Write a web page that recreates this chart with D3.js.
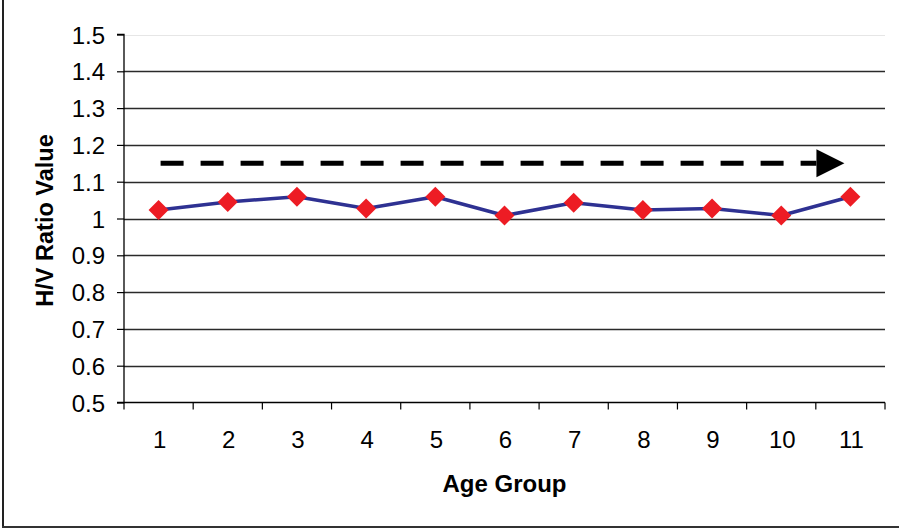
<!DOCTYPE html>
<html>
<head>
<meta charset="utf-8">
<script src="https://cdn.jsdelivr.net/npm/d3@7"></script>
<style>
  html, body { margin: 0; padding: 0; background: #fff; }
  svg { display: block; }
  text { font-family: "Liberation Sans", Arial, sans-serif; fill: #000; }
</style>
</head>
<body>
<svg id="chart" width="899" height="529"></svg>
<script>
// ---- data ----
const ageGroups = ["1", "2", "3", "4", "5", "6", "7", "8", "9", "10", "11"];
const hvRatio = [1.023, 1.045, 1.059, 1.027, 1.059, 1.008, 1.043, 1.023, 1.027, 1.008, 1.059];
const yTicks = [0.5, 0.6, 0.7, 0.8, 0.9, 1.0, 1.1, 1.2, 1.3, 1.4, 1.5];
const yTickLabels = ["0.5", "0.6", "0.7", "0.8", "0.9", "1", "1.1", "1.2", "1.3", "1.4", "1.5"];
const trendArrow = { from: "1", to: "11", value: 1.15 };
const xTitle = "Age Group";
const yTitle = "H/V Ratio Value";

// ---- layout ----
const svg = d3.select("#chart");
const plot = { left: 124, right: 885, top: 34.5, bottom: 402.5 };

const x = d3.scaleBand().domain(ageGroups).range([plot.left, plot.right]).padding(0);
const y = d3.scaleLinear().domain([0.5, 1.5]).range([plot.bottom, plot.top]);
const cx = d => x(d) + x.bandwidth() / 2;

// outer frame (left & bottom visible)
svg.append("line").attr("x1", 3).attr("x2", 3).attr("y1", 0).attr("y2", 527.5)
  .attr("stroke", "#222").attr("stroke-width", 2);
svg.append("line").attr("x1", 2).attr("x2", 899).attr("y1", 527).attr("y2", 527)
  .attr("stroke", "#333").attr("stroke-width", 2);

// gridlines
svg.append("g").selectAll("line").data(yTicks.filter(v => v > 0.5)).join("line")
  .attr("x1", plot.left).attr("x2", plot.right)
  .attr("y1", d => Math.round(y(d)) + 0.5).attr("y2", d => Math.round(y(d)) + 0.5)
  .attr("stroke", d => d === 1.5 ? "#e6e6e6" : "#2a2a2a")
  .attr("stroke-width", d => d === 1.5 ? 1 : 1.3);

// y axis
const yAxis = d3.axisLeft(y).tickValues(yTicks)
  .tickFormat((d, i) => yTickLabels[i]).tickSize(7).tickPadding(12);
const gy = svg.append("g").attr("transform", `translate(${plot.left},0)`).call(yAxis);
gy.attr("font-size", null).attr("font-family", null);
gy.select(".domain").attr("stroke", "#000").attr("stroke-width", 1.3).attr("d", `M-7,${plot.bottom}H0V${plot.top}H-7`);
gy.selectAll(".tick line").attr("stroke", "#000").attr("stroke-width", 1.2);
gy.selectAll(".tick text").style("font-size", "24px").attr("fill", "#000").attr("dy", "0.36em");

// x axis (ticks at band boundaries)
const gx = svg.append("g").attr("transform", `translate(0,${plot.bottom})`);
gx.append("line").attr("x1", plot.left).attr("x2", plot.right).attr("y1", 0).attr("y2", 0)
  .attr("stroke", "#000").attr("stroke-width", 1.3);
const bounds = ageGroups.map(d => x(d)).concat([plot.right]);
gx.selectAll("line.tk").data(bounds).join("line").attr("class", "tk")
  .attr("x1", d => d).attr("x2", d => d).attr("y1", 0).attr("y2", 7)
  .attr("stroke", "#000").attr("stroke-width", 1.2);
gx.selectAll("text").data(ageGroups).join("text")
  .attr("x", d => cx(d) + 1).attr("y", 45)
  .attr("text-anchor", "middle").style("font-size", "24px").text(d => d);

// axis titles
svg.append("text").attr("x", (plot.left + plot.right) / 2).attr("y", 492)
  .attr("text-anchor", "middle").style("font-size", "24px").style("font-weight", "bold").text(xTitle);
svg.append("text").attr("transform", `translate(53,${(plot.top + plot.bottom) / 2 + 2}) rotate(-90)`)
  .attr("text-anchor", "middle").style("font-size", "23.5px").style("font-weight", "bold").text(yTitle);

// trend arrow
const ay = y(trendArrow.value);
const ax0 = cx(trendArrow.from) + 2;
const axTip = cx(trendArrow.to) - 6;
const headLen = 28, headHalf = 14;
svg.append("line").attr("x1", ax0).attr("x2", axTip - headLen).attr("y1", ay).attr("y2", ay)
  .attr("stroke", "#000").attr("stroke-width", 5).attr("stroke-dasharray", "23,17");
svg.append("path")
  .attr("d", `M${axTip},${ay}L${axTip - headLen},${ay - headHalf}L${axTip - headLen},${ay + headHalf}Z`)
  .attr("fill", "#000");

// series line
const line = d3.line().x((d, i) => cx(ageGroups[i])).y(d => y(d));
svg.append("path").datum(hvRatio).attr("d", line)
  .attr("fill", "none").attr("stroke", "#2E3192").attr("stroke-width", 3.5)
  .attr("stroke-linejoin", "round");

// markers
const sym = d3.symbol().type(d3.symbolSquare).size(200);
svg.append("g").selectAll("path").data(hvRatio).join("path")
  .attr("transform", (d, i) => `translate(${cx(ageGroups[i])},${y(d)}) rotate(45)`)
  .attr("d", sym).attr("fill", "#ED1C24");
</script>
</body>
</html>
